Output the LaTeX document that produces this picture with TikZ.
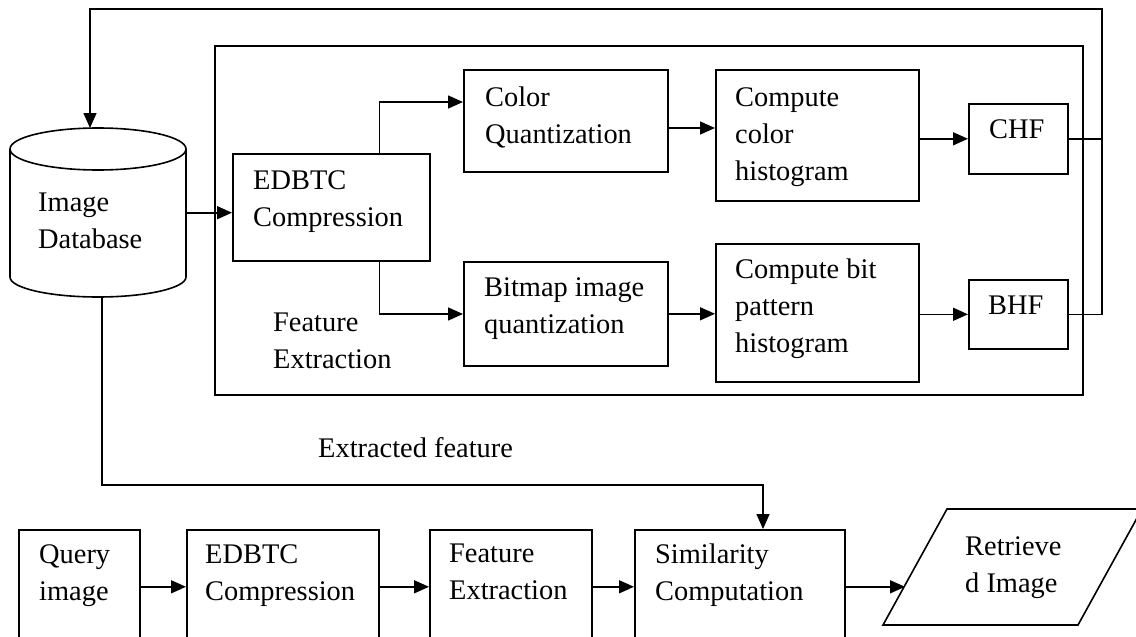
\documentclass[tikz,border=0pt]{standalone}
\usepackage{fontspec}
\setmainfont{Liberation Serif}
\usetikzlibrary{arrows.meta}
\begin{document}
\begin{tikzpicture}[x=1pt,y=-1pt,
  box/.style={draw, line width=1.6pt, inner sep=0pt, anchor=north west},
  txt/.style={font=\fontsize{28.4}{37}\selectfont, align=left, inner sep=0pt, anchor=north west},
  conn/.style={line width=1.6pt},
  arr/.style={conn, -{Triangle[length=15pt,width=13pt]}},
]
\useasboundingbox (0,0) rectangle (1136,637);
\clip (0,0) rectangle (1136,637);

% image database (cylinder)
\node[inner sep=0pt, minimum width=176pt, minimum height=169pt, anchor=north west] (db) at (10,128) {};
\draw[conn] (98,149) ellipse [x radius=88pt, y radius=21pt];
\draw[conn] (10,149) -- (10,277) arc[start angle=180, end angle=360, x radius=88pt, y radius=20pt] -- (186,149);
\node[txt] (dbt) at (38,193) {Image\\Database};

% feature extraction frame
\node[box, minimum width=868pt, minimum height=349pt] (fe) at (214,45) {};
\node[txt] (fet) at (273,313) {Feature\\Extraction};

% boxes inside frame
\node[box, minimum width=197pt, minimum height=107pt] (edb) at (232,153) {};
\node[txt] (edbt) at (253,170) {EDBTC\\Compression};
\node[box, minimum width=204pt, minimum height=102pt] (cq) at (463,69) {};
\node[txt] (cqt) at (485,87) {Color\\Quantization};
\node[box, minimum width=203pt, minimum height=131pt] (cch) at (715,69) {};
\node[txt] (ccht) at (735,87) {Compute\\color\\histogram};
\node[box, minimum width=99pt, minimum height=70pt] (chf) at (968,103) {};
\node[txt] (chft) at (989,119) {CHF};
\node[box, minimum width=204pt, minimum height=104pt] (bq) at (463,261) {};
\node[txt] (bqt) at (484,277) {Bitmap image\\quantization};
\node[box, minimum width=203pt, minimum height=138pt] (bph) at (715,243) {};
\node[txt] (bpht) at (735,259) {Compute bit\\pattern\\histogram};
\node[box, minimum width=99pt, minimum height=69pt] (bhf) at (968,279) {};
\node[txt] (bhft) at (988,296) {BHF};

% bottom row
\node[box, minimum width=121pt, minimum height=114pt] (qi) at (18,529) {};
\node[txt] (qit) at (39,544) {Query\\image};
\node[box, minimum width=192pt, minimum height=114pt] (qedb) at (186,529) {};
\node[txt] (qedbt) at (205,544) {EDBTC\\Compression};
\node[box, minimum width=162pt, minimum height=114pt] (qfe) at (429,529) {};
\node[txt] (qfet) at (449,544) {Feature\\Extraction};
\node[box, minimum width=210pt, minimum height=114pt] (sim) at (634,529) {};
\node[txt] (simt) at (655,544) {Similarity\\Computation};

% retrieved image (parallelogram)
\coordinate (r1) at (883,625);
\coordinate (r2) at (947,509);
\coordinate (r3) at (1142,509);
\coordinate (r4) at (1078,625);
\coordinate (retin) at (905,586);
\draw[conn] (r1) -- (r2) -- (r3) -- (r4) -- cycle;
\node[txt] (rett) at (965,536) {Retrieve\\d Image};

\node[txt] (eft) at (318,437) {Extracted feature};

% connectors
\draw[arr] (db.east) -- (db.east -| edb.west);
\draw[arr] ([xshift=-51pt]edb.north east) |- ([yshift=-33pt]cq.north west);
\draw[arr] ([xshift=-51pt]edb.south east) |- ([yshift=-53pt]bq.north west);
\draw[arr] ([yshift=-59pt]cq.north east) coordinate (t1) -- (t1 -| cch.west);
\draw[arr] (cch.east |- chf.west) -- (chf.west);
\draw[arr] (bq.east) -- (bq.east -| bph.west);
\draw[arr] (bph.east |- bhf.west) -- (bhf.west);

\coordinate (fbr) at (1102,9);
\coordinate (fbl) at (90,9);
\draw[arr] (chf.east) -| (fbr) -- (fbl) -- (fbl |- db.north);
\draw[conn] (bhf.east) -- (bhf.east -| fbr) -- (fbr |- chf.east);

\coordinate (ex) at (763,485);
\draw[arr] ([xshift=4pt]db.south) |- (ex) -- (ex |- sim.north);

\draw[arr] (qi.east) -- (qi.east -| qedb.west);
\draw[arr] (qedb.east) -- (qedb.east -| qfe.west);
\draw[arr] (qfe.east) -- (qfe.east -| sim.west);
\draw[arr] (sim.east) -- (sim.east -| retin);
\end{tikzpicture}
\end{document}
